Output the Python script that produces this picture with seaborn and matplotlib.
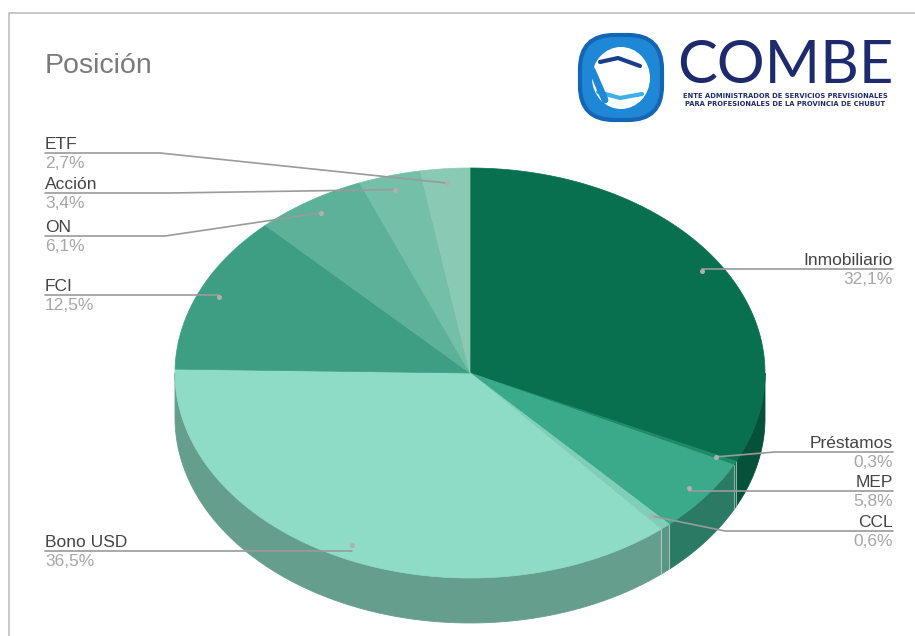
import numpy as np
import matplotlib
matplotlib.use("Agg")
import matplotlib.pyplot as plt
import seaborn as sns
from matplotlib.patches import Polygon, Ellipse, FancyBboxPatch

# ---- data ----
categories = ["Inmobiliario", "Préstamos", "MEP", "CCL", "Bono USD", "FCI", "ON", "Acción", "ETF"]
values = [32.1, 0.3, 5.8, 0.6, 36.5, 12.5, 6.1, 3.4, 2.7]
pct_labels = ["32,1%", "0,3%", "5,8%", "0,6%", "36,5%", "12,5%", "6,1%", "3,4%", "2,7%"]
colors = ["#08704f", "#1f8a68", "#3aaa8b", "#7fcfb8", "#8edcc5",
          "#3d9e84", "#5db198", "#74bfa7", "#8acab4"]
title = "Posición"

sns.set_theme(style="white")
plt.rcParams['font.family'] = ['Liberation Sans', 'DejaVu Sans']

W, H = 915, 636
fig = plt.figure(figsize=(W / 100, H / 100), dpi=100)
ax = fig.add_axes([0, 0, 1, 1])
ax.set_xlim(0, W)
ax.set_ylim(H, 0)
ax.axis("off")

# frame (top and left visible)
ax.plot([8.5, 8.5, W], [H, 12.5, 12.5], color="#bdbdbd", lw=1.2, solid_capstyle="butt")

cx, cy, a, b, depth = 470, 373, 295, 205, 45

def pt(t, r=1.0, dy=0.0):
    t = np.radians(t)
    return cx + r * a * np.sin(t), cy - r * b * np.cos(t) + dy

def darker(c, f=0.72):
    rgb = np.array(matplotlib.colors.to_rgb(c))
    return tuple(rgb * f)

total = sum(values)
bounds = np.concatenate([[0], np.cumsum(values)]) / total * 360

# side walls
for i, (s, e) in enumerate(zip(bounds[:-1], bounds[1:])):
    s2, e2 = max(s, 90), min(e, 270)
    if e2 <= s2:
        continue
    ts = np.linspace(s2, e2, 80)
    top = [pt(t) for t in ts]
    bot = [pt(t, dy=depth) for t in ts[::-1]]
    ax.add_patch(Polygon(top + bot, closed=True, facecolor=darker(colors[i]),
                         edgecolor=darker(colors[i]), lw=0.6, zorder=1))
# seams on side
for t in bounds:
    if 90 < t < 270:
        x0, y0 = pt(t)
        ax.plot([x0, x0], [y0, y0 + depth], color="#cfe9e0", lw=0.8, alpha=0.6, zorder=1.5)

# top faces
for i, (s, e) in enumerate(zip(bounds[:-1], bounds[1:])):
    ts = np.linspace(s, e, max(int((e - s) * 2), 4))
    poly = [(cx, cy)] + [pt(t) for t in ts]
    ax.add_patch(Polygon(poly, closed=True, facecolor=colors[i],
                         edgecolor=colors[i], lw=0.5, zorder=2))

# labels
name_c, pct_c, line_c = "#444444", "#a6a6a6", "#9a9a9a"
fs = 12.5
layout = {
    # name: (side, line_y, elbow_x)
    "Inmobiliario": ("R", 269, None),
    "Préstamos": ("R", 452, 775),
    "MEP": ("R", 491, None),
    "CCL": ("R", 531, 725),
    "Bono USD": ("L", 551, None),
    "FCI": ("L", 295, None),
    "ON": ("L", 236, 165),
    "Acción": ("L", 193, 170),
    "ETF": ("L", 153, 160),
}
mids = (bounds[:-1] + bounds[1:]) / 2
for i, name in enumerate(categories):
    side, ly, ex = layout[name]
    dx, dy = pt(mids[i], r=0.93)
    if side == "L":
        xs = [45] + ([ex] if ex else []) + [dx]
        ys = [ly] + ([ly] if ex else []) + [dy if ex else ly]
        tx, ha = 45, "left"
    else:
        xs = [893] + ([ex] if ex else []) + [dx]
        ys = [ly] + ([ly] if ex else []) + [dy if ex else ly]
        tx, ha = 893, "right"
    ax.plot(xs, ys, color=line_c, lw=1.2, zorder=3)
    ax.plot([dx], [dy], "o", ms=2.6, color="#b0b0b0", zorder=4)
    ax.text(tx, ly - 4, name, ha=ha, va="baseline", fontsize=fs, color=name_c, zorder=5)
    ax.text(tx, ly + 3, pct_labels[i], ha=ha, va="top", fontsize=fs, color=pct_c, zorder=5)

# title
ax.text(45, 73, title, ha="left", va="baseline", fontsize=20.5, color="#7a7a7a")

# logo
ax.add_patch(FancyBboxPatch((580, 35), 82, 85, boxstyle="round,pad=0,rounding_size=34",
                            facecolor="#1e88d6", edgecolor="#1565b5", lw=3, zorder=2))
ax.add_patch(Ellipse((621, 78), 58, 62, facecolor="white", edgecolor="none", zorder=3))
ax.plot([600, 618, 640], [62, 58, 66], color="#1a3f8a", lw=3, zorder=4)
ax.plot([598, 620, 642], [92, 98, 94], color="#3ab0e6", lw=3, zorder=4)
ax.plot([592, 605], [70, 100], color="#1e88d6", lw=5, zorder=4)
ax.text(785, 66, "COMBE", ha="center", va="center", fontsize=43, color="#1e2a6e",
        family="Lato", fontweight="normal", zorder=5)
ax.text(785, 96, "ENTE ADMINISTRADOR DE SERVICIOS PREVISIONALES", ha="center", va="center",
        fontsize=4.9, color="#1e2a6e", fontweight="bold", family="DejaVu Sans", zorder=5)
ax.text(785, 104, "PARA PROFESIONALES DE LA PROVINCIA DE CHUBUT", ha="center", va="center",
        fontsize=4.9, color="#1e2a6e", fontweight="bold", family="DejaVu Sans", zorder=5)

fig.savefig("out.png", dpi=100, facecolor="white")
